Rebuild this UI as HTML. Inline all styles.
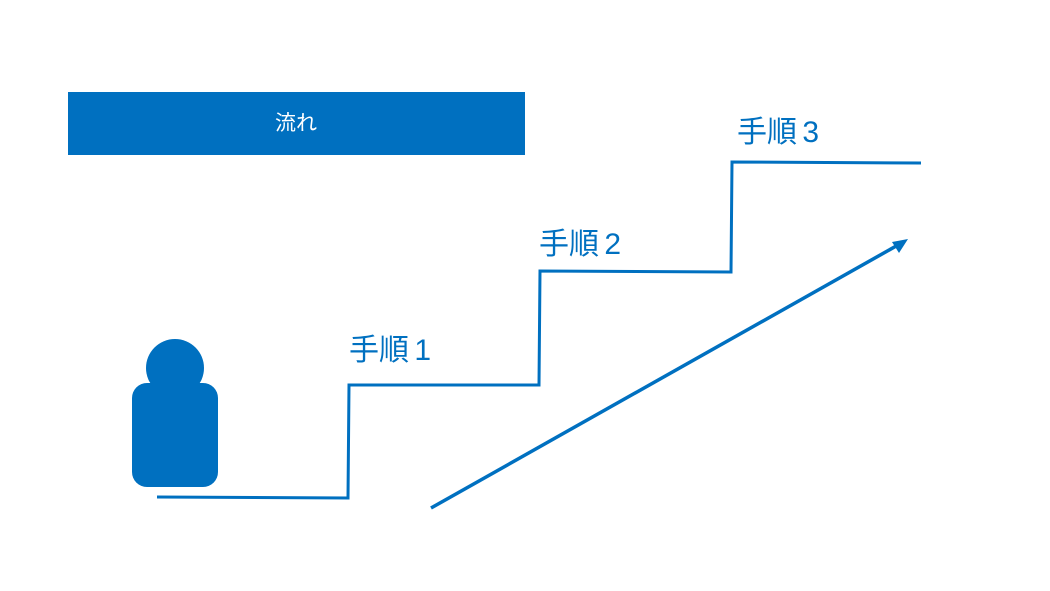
<!DOCTYPE html>
<html><head><meta charset="utf-8"><style>
html,body{margin:0;padding:0;background:#fff;width:1050px;height:591px;overflow:hidden}
</style></head><body>
<svg width="1050" height="591" viewBox="0 0 1050 591" xmlns="http://www.w3.org/2000/svg">
<rect x="68" y="92" width="457" height="63" fill="#0070C0"/>
<text x="296" y="130" font-family="Liberation Sans, Noto Sans CJK JP, sans-serif" font-size="21" fill="#fff" text-anchor="middle">流れ</text>
<circle cx="175" cy="368" r="29" fill="#0070C0"/>
<rect x="132" y="383" width="86" height="104" rx="15" fill="#0070C0"/>
<polyline points="157,497 348,498 349,385 539,385 540,271 731,272 732,162 921,163" fill="none" stroke="#0070C0" stroke-width="3"/>
<line x1="431" y1="508" x2="898" y2="245" stroke="#0070C0" stroke-width="3.5"/>
<polygon points="908,239 892,242 899,253" fill="#0070C0"/>
<g font-family="Liberation Sans, Noto Sans CJK JP, sans-serif" font-size="30" fill="#0070C0">
<text x="349" y="360">手順<tspan letter-spacing="-3"> </tspan>1</text>
<text x="539" y="254">手順<tspan letter-spacing="-3"> </tspan>2</text>
<text x="737" y="142">手順<tspan letter-spacing="-3"> </tspan>3</text>
</g>
</svg>
</body></html>
